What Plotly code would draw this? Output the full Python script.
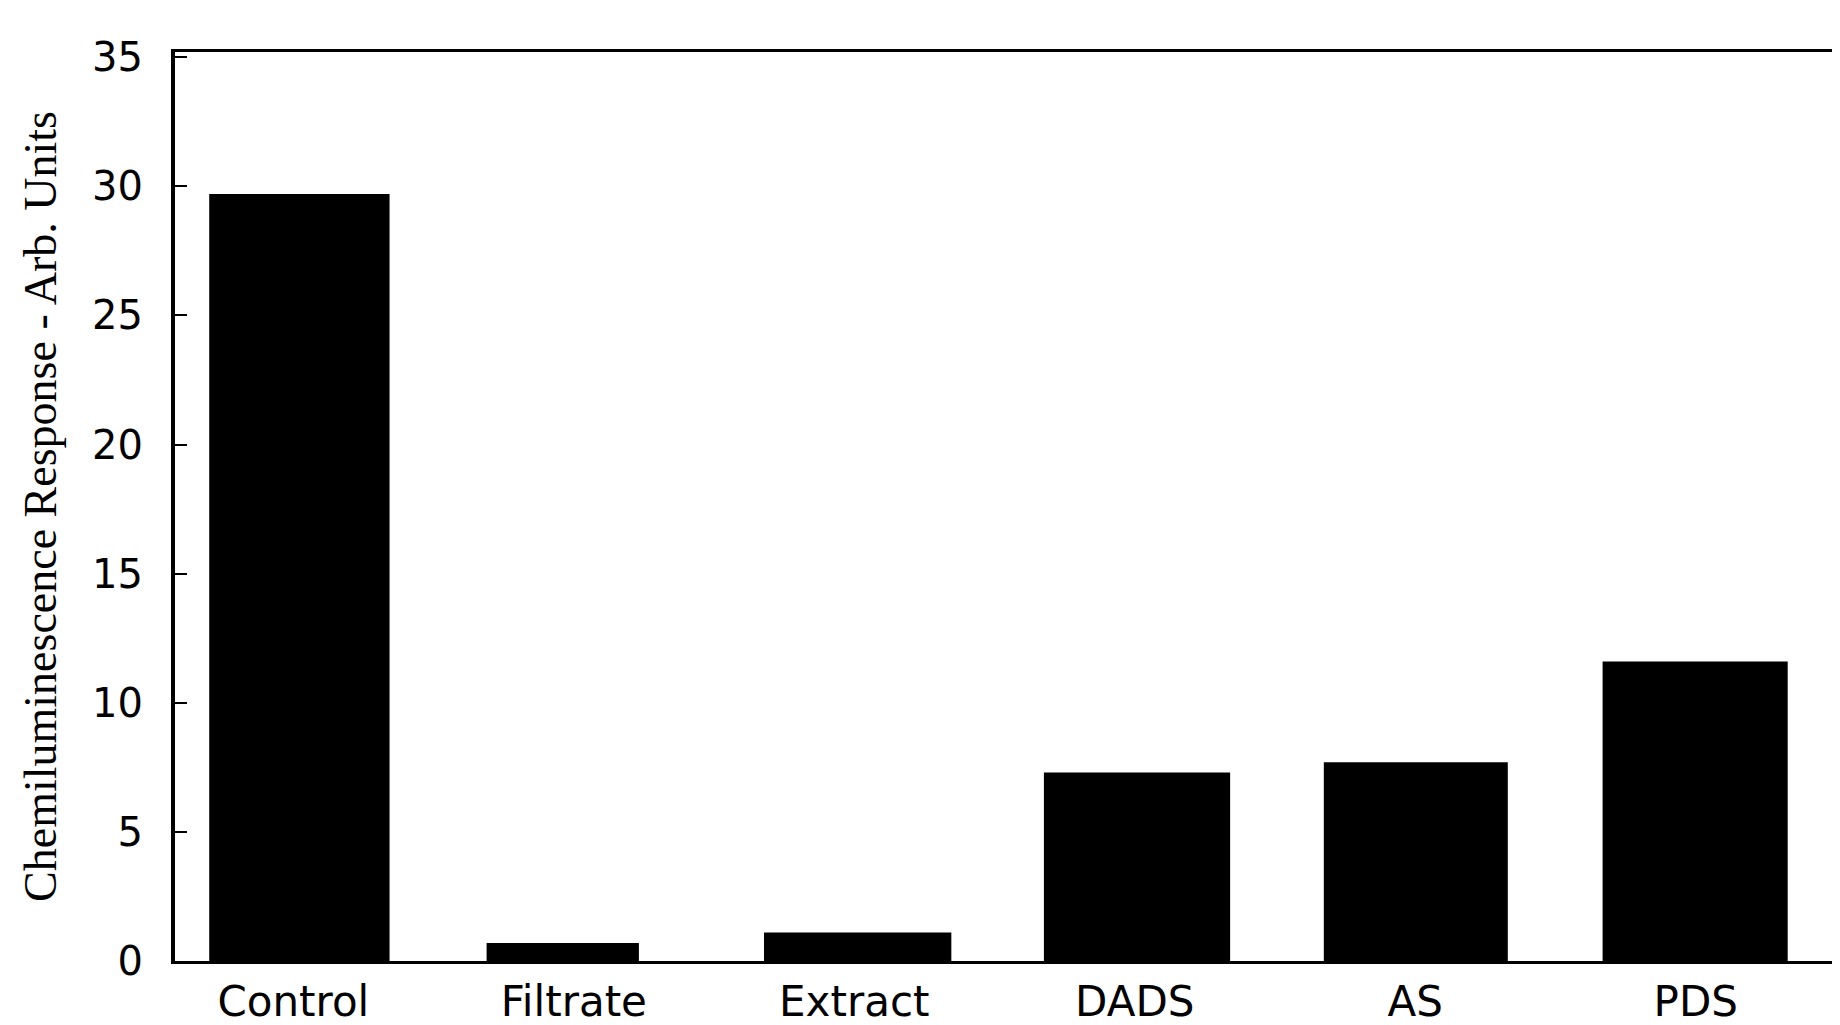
import plotly.graph_objects as go

categories = ["Control", "Filtrate", "Extract", "DADS", "AS", "PDS"]
values = [29.7, 0.7, 1.1, 7.3, 7.7, 11.6]
y_ticks = [0, 5, 10, 15, 20, 25, 30, 35]

# bar geometry (style only)
bar_widths = [0.643, 0.543, 0.668, 0.664, 0.656, 0.66]
bar_offsets = [-0.30, -0.311, -0.322, -0.324, -0.326, -0.332]

fig = go.Figure()
fig.add_trace(go.Bar(
    x=categories,
    y=values,
    marker=dict(color="black", line=dict(width=0)),
    width=bar_widths,
    offset=bar_offsets,
    showlegend=False,
))

fig.update_layout(
    width=1840,
    height=1025,
    margin=dict(l=167, r=3, t=44, b=72),
    paper_bgcolor="white",
    plot_bgcolor="white",
    font=dict(family="DejaVu Sans", color="black"),
    xaxis=dict(
        type="category",
        range=[-0.422, 5.518],
        showline=True, linecolor="black", linewidth=3, mirror=True,
        ticks="", showgrid=False, zeroline=False,
        tickfont=dict(family="DejaVu Sans", size=42, color="black"),
        ticklabelstandoff=2,
    ),
    yaxis=dict(
        range=[0, 35.2],
        tickvals=y_ticks,
        ticktext=[str(v) for v in y_ticks],
        showline=True, linecolor="black", linewidth=4, mirror=True,
        ticks="inside", ticklen=12, tickwidth=2, tickcolor="black",
        showgrid=False, zeroline=False,
        tickfont=dict(family="DejaVu Sans", size=40, color="black"),
        ticklabelstandoff=20,
        title=dict(
            text="Chemiluminescence Response - Arb. Units",
            font=dict(family="Liberation Serif", size=46, color="black"),
            standoff=22,
        ),
    ),
)

fig.write_html("out.html")
